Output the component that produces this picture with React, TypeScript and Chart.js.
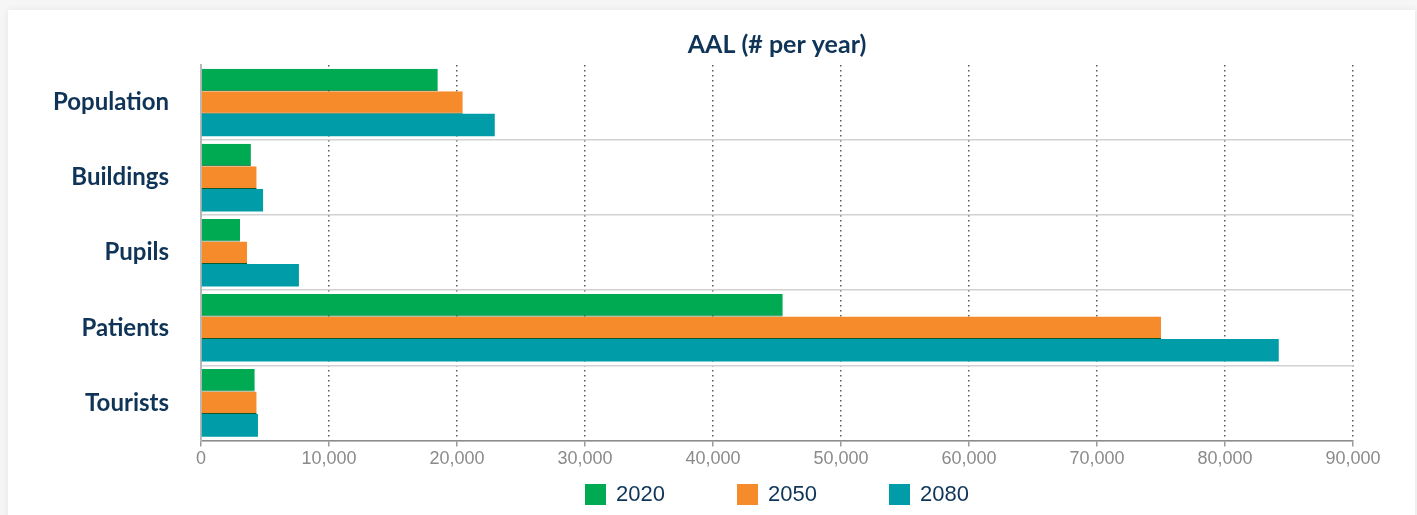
import React, { useEffect, useRef } from "react";
import { Chart, registerables } from "chart.js";

Chart.register(...registerables);

// Average annual loss by exposure type and scenario year
const categories = ["Population", "Buildings", "Pupils", "Patients", "Tourists"];
const years = ["2020", "2050", "2080"];
const aal2020 = [18500, 3900, 3050, 45450, 4200];
const aal2050 = [20450, 4350, 3600, 75000, 4350];
const aal2080 = [22950, 4850, 7650, 84200, 4450];
const xTicks = [0, 10000, 20000, 30000, 40000, 50000, 60000, 70000, 80000, 90000];

const seriesColors = ["#00aa52", "#f68b2b", "#009da8"];
const NAVY = "#0f3457";
const EDGE = "#0b5a2c";

const CARD_W = 1407;
const CANVAS_H = 505;

export default function App() {
  const canvasRef = useRef<HTMLCanvasElement | null>(null);

  useEffect(() => {
    const canvas = canvasRef.current;
    if (!canvas) return;
    const series = [aal2020, aal2050, aal2080];
    const chart = new Chart(canvas, {
      type: "bar",
      data: {
        labels: categories,
        datasets: series.map((values, i) => ({
          label: years[i],
          data: values,
          backgroundColor: seriesColors[i],
          borderColor: EDGE,
          borderWidth: i < 2 ? { top: 0, left: 0, right: 0, bottom: 1 } : 0,
          borderSkipped: false,
          categoryPercentage: 0.9,
          barPercentage: 1,
        })),
      },
      options: {
        indexAxis: "y",
        responsive: false,
        animation: false,
        layout: { padding: { left: 0, right: 62, top: 0, bottom: 43 } },
        plugins: {
          legend: { display: false },
          tooltip: { enabled: false },
          title: {
            display: true,
            text: "AAL (# per year)",
            fullSize: false,
            color: NAVY,
            font: { family: "Lato", size: 25, weight: "bold" },
            padding: { top: 20, bottom: 5 },
          },
        },
        scales: {
          x: {
            type: "linear",
            min: 0,
            max: 90000,
            z: 1,
            afterBuildTicks: (scale: any) => {
              scale.ticks = xTicks.map((v) => ({ value: v }));
            },
            ticks: {
              color: "#8a8a8a",
              font: { family: "Liberation Sans", size: 18 },
              padding: 2,
              callback: (v: any) => Number(v).toLocaleString("en-US"),
            },
            grid: {
              color: "#5a5a5a",
              lineWidth: 1.5,
              tickLength: 6,
              tickColor: "#9a9a9a",
            },
            // dotted vertical grid lines; the axis line itself stays solid
            border: { display: true, color: "#8c8c8c", width: 1.5, dash: [1.5, 3.5] },
          },
          y: {
            type: "category",
            afterFit: (scale: any) => {
              scale.width = 193;
            },
            ticks: {
              color: NAVY,
              font: { family: "Lato", size: 24, weight: "bold" },
              padding: 32,
            },
            grid: {
              drawTicks: false,
              lineWidth: 1.5,
              color: (ctx: any) => (ctx.index === 0 ? "rgba(0,0,0,0)" : "#d2d2d2"),
            },
            border: { display: true, color: "#b8b8b8", width: 2 },
          },
        },
      },
    });
    return () => chart.destroy();
  }, []);

  return (
    <div>
      <div
        style={{
          position: "fixed",
          inset: 0,
          background: "#f6f6f6",
        }}
      />
      <div
        style={{
          position: "fixed",
          left: 8,
          top: 10,
          width: CARD_W,
          height: 530,
          background: "#ffffff",
          boxShadow: "0 0 8px rgba(0,0,0,0.07)",
        }}
      >
        <canvas
          ref={canvasRef}
          width={CARD_W}
          height={CANVAS_H}
          style={{ position: "absolute", left: 0, top: 0, width: CARD_W, height: CANVAS_H }}
        />
        <div
          style={{
            position: "absolute",
            left: 193,
            width: 1152,
            top: 472,
            display: "flex",
            justifyContent: "center",
            gap: 72,
            fontFamily: "'Liberation Sans', Arial, sans-serif",
            fontSize: 22,
            color: NAVY,
          }}
        >
          {years.map((y, i) => (
            <div key={y} style={{ display: "flex", alignItems: "center", height: 24 }}>
              <span
                style={{
                  display: "inline-block",
                  width: 21,
                  height: 21,
                  background: seriesColors[i],
                  marginRight: 10,
                }}
              />
              <span>{y}</span>
            </div>
          ))}
        </div>
      </div>
    </div>
  );
}
